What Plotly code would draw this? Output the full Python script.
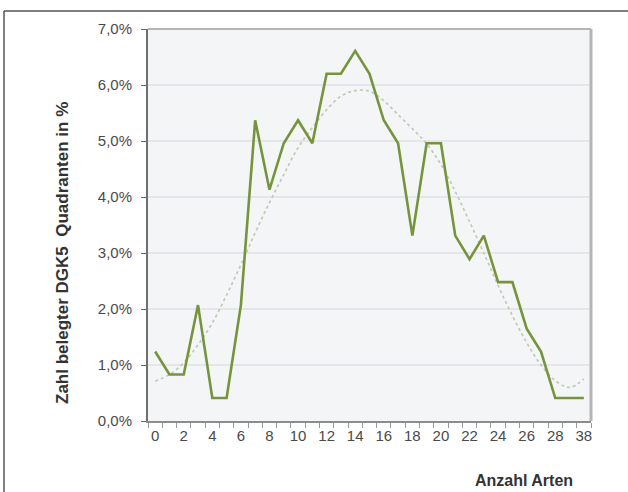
import plotly.graph_objects as go

# Categories (Anzahl Arten)
categories = [str(i) for i in range(30)] + ["38"]
# Share of occupied DGK5 quadrants in %
share_pct = [1.24, 0.83, 0.83, 2.07, 0.41, 0.41, 2.07, 5.37, 4.13, 4.96,
             5.37, 4.96, 6.20, 6.20, 6.61, 6.20, 5.37, 4.96, 3.31, 4.96,
             4.96, 3.31, 2.89, 3.31, 2.48, 2.48, 1.65, 1.24, 0.41, 0.41, 0.41]
# Trend line
trend_pct = [0.71, 0.83, 1.04, 1.36, 1.75, 2.25, 2.79, 3.36, 3.90, 4.40,
             4.88, 5.24, 5.56, 5.80, 5.90, 5.89, 5.72, 5.47, 5.22, 4.95,
             4.58, 4.10, 3.56, 3.00, 2.42, 1.88, 1.40, 1.00, 0.72, 0.60, 0.75]
y_ticks = [0, 1, 2, 3, 4, 5, 6, 7]
y_ticktext = ["0,0%", "1,0%", "2,0%", "3,0%", "4,0%", "5,0%", "6,0%", "7,0%"]
y_title = "Zahl belegter DGK5  Quadranten in %"
x_title = "Anzahl Arten"

idx = list(range(len(categories)))
label_idx = [i for i in idx if i % 2 == 0]

W, H = 628, 492
L, R, T, B = 148, 37, 29, 71
PW, PH = W - L - R, H - T - B


def px_x(px):
    return (px - L) / PW


def px_y(py):
    return (H - B - py) / PH


fig = go.Figure()
fig.add_trace(go.Scatter(x=idx, y=trend_pct, mode="lines", line_shape="spline",
                         line=dict(color="#c2c9b4", width=1.7, dash="dot"),
                         hoverinfo="skip", showlegend=False))
fig.add_trace(go.Scatter(x=idx, y=share_pct, mode="lines",
                         line=dict(color="#77933c", width=2.6),
                         showlegend=False))

font_family = "Liberation Sans, Arial, sans-serif"
title_family = "Liberation Sans Narrow, Arial Narrow, Liberation Sans, Arial, sans-serif"
fig.update_layout(
    width=W, height=H,
    margin=dict(l=L, r=R, t=T, b=B),
    paper_bgcolor="white",
    plot_bgcolor="#f4f5f6",
    font=dict(family=font_family, size=14, color="#4a4a4a"),
    xaxis=dict(
        range=[-0.5, len(categories) - 0.5],
        tickvals=label_idx,
        ticktext=[categories[i] for i in label_idx],
        ticks="", showgrid=False, zeroline=False,
        showline=True, linecolor="#8c8c8c", linewidth=1.5,
        tickfont=dict(size=15, color="#4a4a4a"),
        minor=dict(tickvals=[i - 0.5 for i in idx] + [len(idx) - 0.5],
                   ticks="outside", ticklen=5, tickcolor="#9a9a9a", showgrid=False),
    ),
    yaxis=dict(
        range=[0, 7],
        tickvals=y_ticks, ticktext=y_ticktext,
        ticks="outside", ticklen=5, tickcolor="#666666",
        ticklabelstandoff=6,
        showgrid=True, gridcolor="#e4e6ea", gridwidth=2,
        zeroline=False,
        showline=True, linecolor="#6e6e6e", linewidth=2,
        tickfont=dict(size=15, color="#4a4a4a"),
    ),
    annotations=[
        dict(text="<b>" + x_title + "</b>", x=px_x(524), y=px_y(480),
             xref="paper", yref="paper", showarrow=False,
             xanchor="center", yanchor="middle",
             font=dict(size=16, color="#333333", family=title_family)),
        dict(text="<b>" + y_title + "</b>", x=px_x(62), y=px_y(253),
             xref="paper", yref="paper", showarrow=False, textangle=-90,
             xanchor="center", yanchor="middle",
             font=dict(size=17, color="#333333", family=title_family)),
    ],
    shapes=[
        # plot-area border (top / right)
        dict(type="line", xref="paper", yref="paper", x0=0, x1=1, y0=1, y1=1,
             line=dict(color="#b5b5b5", width=2)),
        dict(type="line", xref="paper", yref="paper", x0=1, x1=1, y0=0, y1=1,
             line=dict(color="#b5b5b5", width=3)),
        # outer frame (top / left)
        dict(type="line", xref="paper", yref="paper",
             x0=px_x(4), x1=px_x(W), y0=px_y(11), y1=px_y(11),
             line=dict(color="#555555", width=1.5)),
        dict(type="line", xref="paper", yref="paper",
             x0=px_x(4), x1=px_x(4), y0=px_y(11), y1=px_y(H),
             line=dict(color="#555555", width=1.5)),
    ],
)

fig.write_html("out.html")
